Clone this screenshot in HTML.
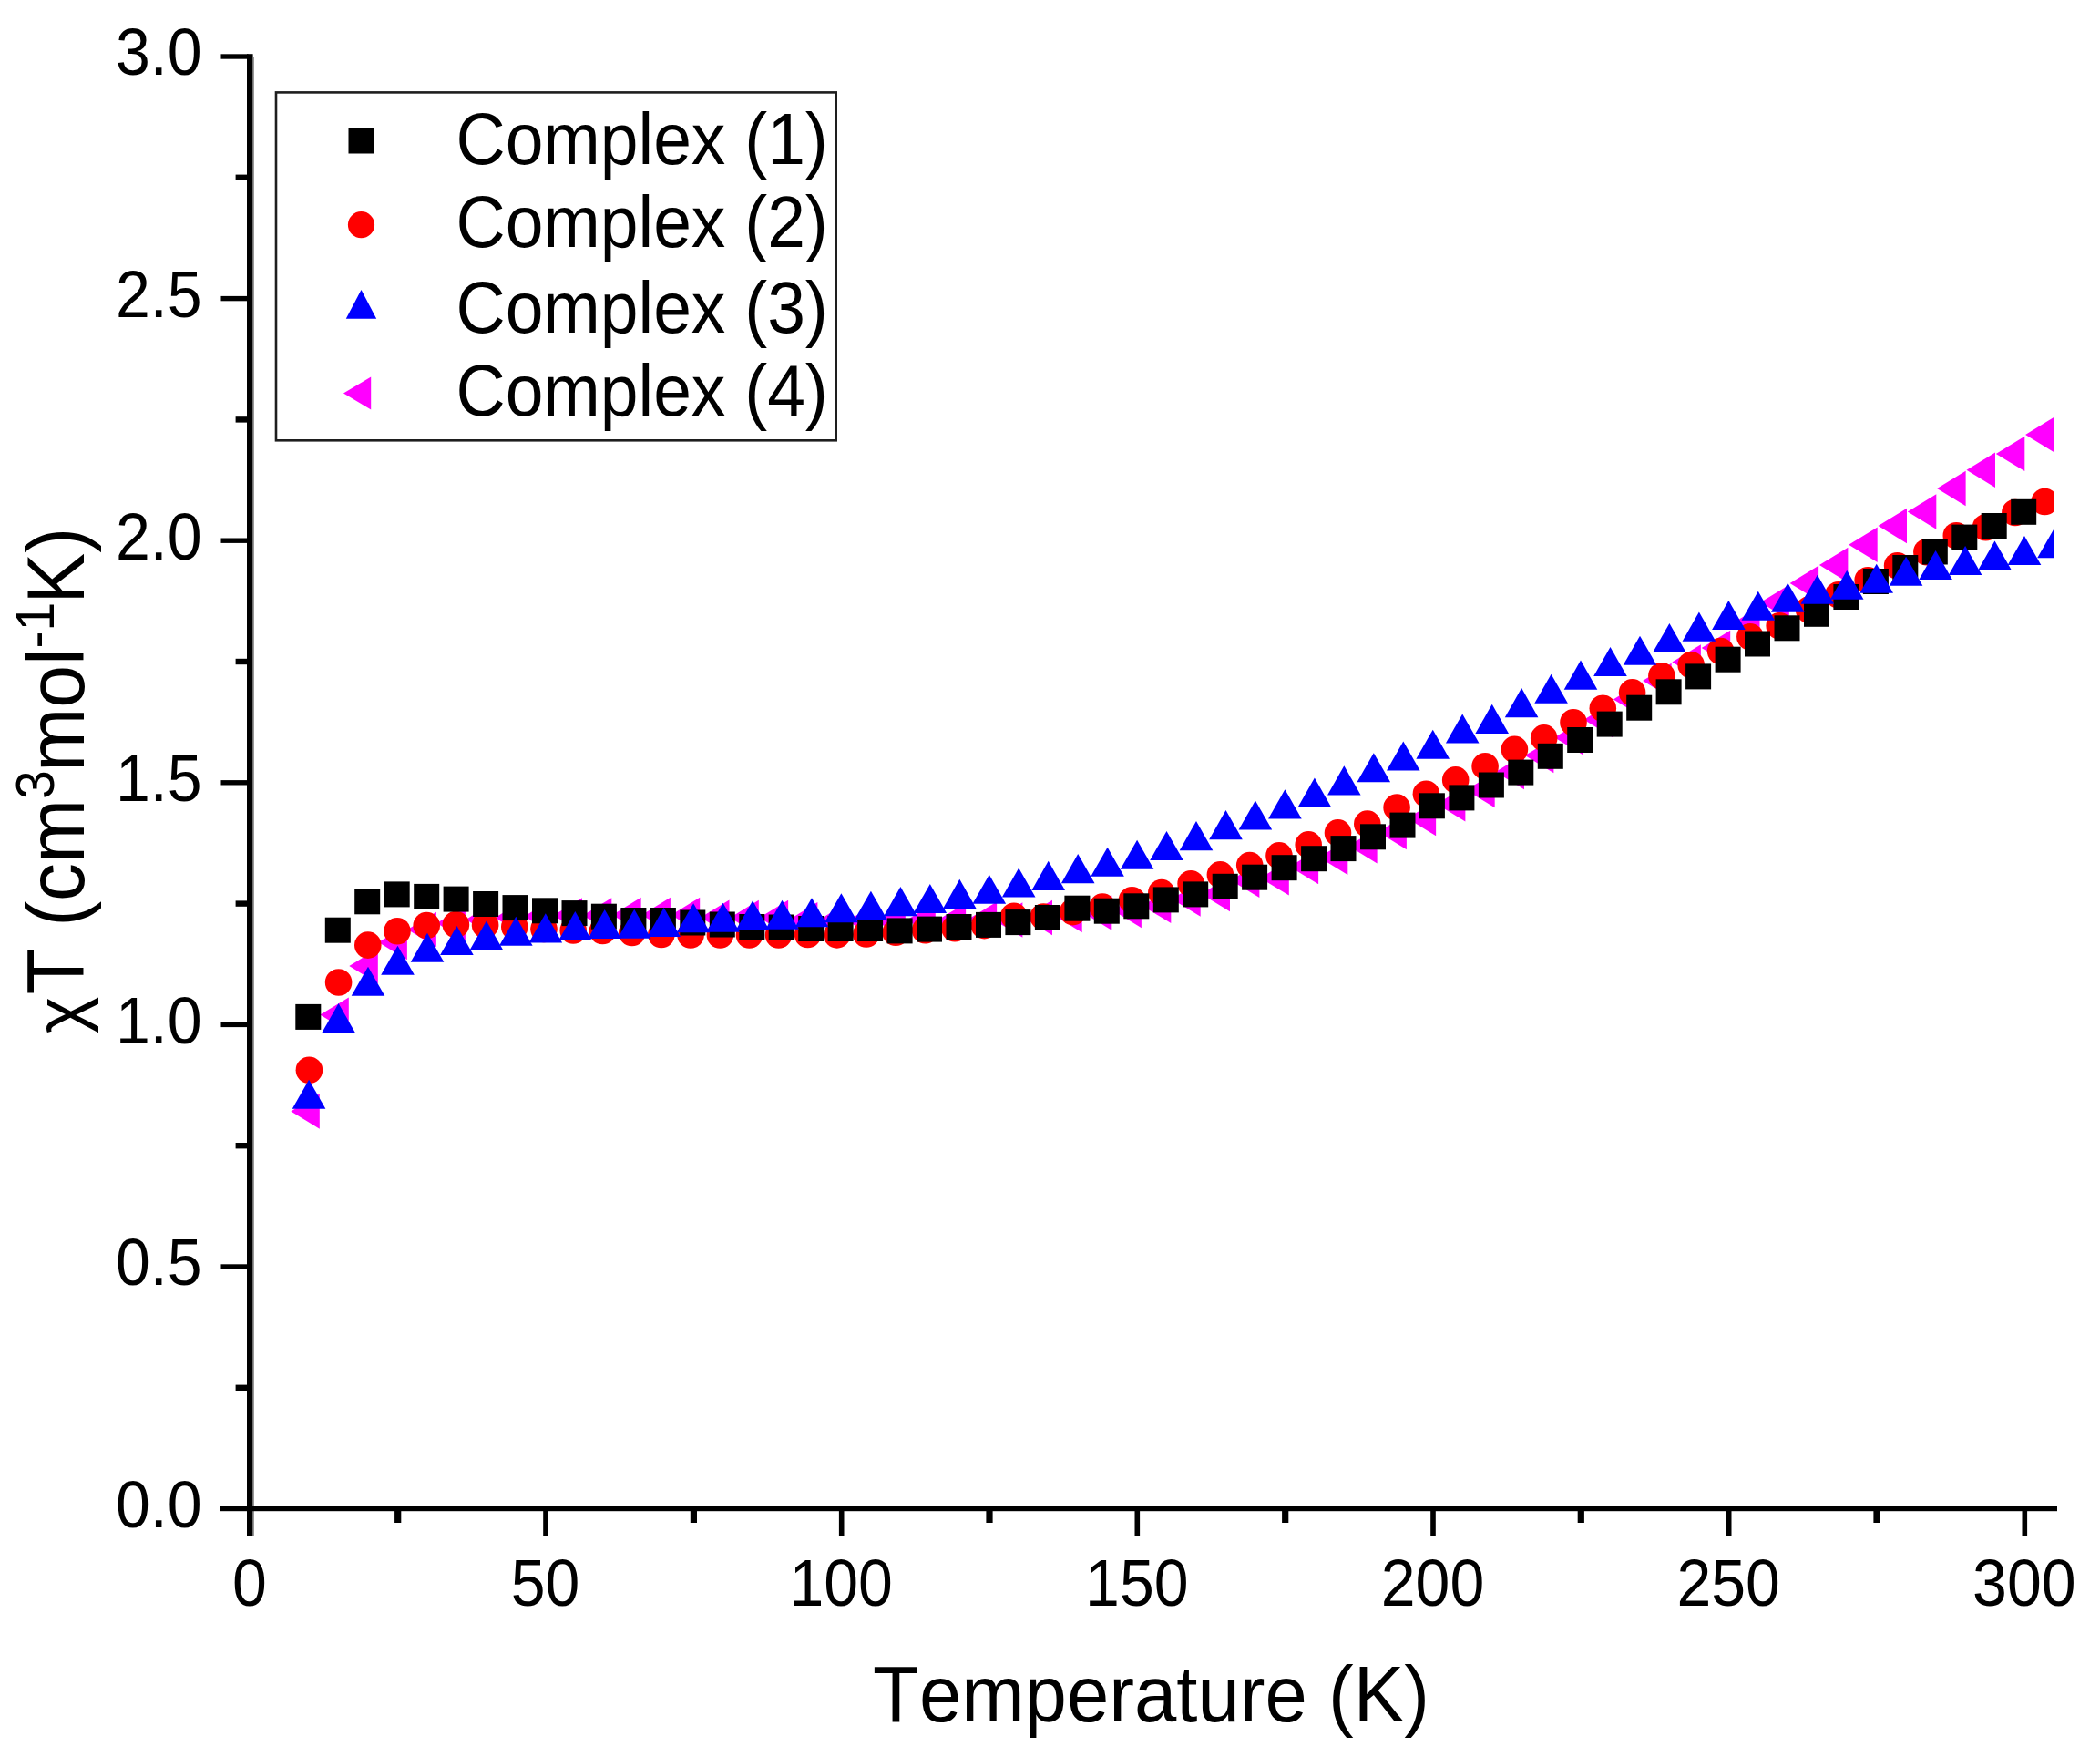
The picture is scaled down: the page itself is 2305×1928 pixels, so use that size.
<!DOCTYPE html>
<html lang="en"><head><meta charset="utf-8"><title>χT vs Temperature</title>
<style>
html,body{margin:0;padding:0;background:#fff;}
body{width:2305px;height:1928px;overflow:hidden;}
svg{display:block;}
text{font-family:"Liberation Sans",sans-serif;fill:#000;font-kerning:none;}
</style></head><body>
<svg width="2305" height="1928" viewBox="0 0 2305 1928">
<rect x="0" y="0" width="2305" height="1928" fill="#ffffff"/>
<defs><clipPath id="plotclip"><rect x="274.4" y="22.0" width="1980.6" height="1673.6"/></clipPath></defs>

<g clip-path="url(#plotclip)" shape-rendering="geometricPrecision">
<g fill="#ff00ff">
<path d="M319.3 1219.5L350.8 1200.3L350.8 1238.7Z"/>
<path d="M351.3 1113.6L382.8 1094.4L382.8 1132.8Z"/>
<path d="M383.3 1060.0L414.8 1040.8L414.8 1079.2Z"/>
<path d="M415.4 1034.0L446.9 1014.8L446.9 1053.2Z"/>
<path d="M447.4 1020.0L478.9 1000.8L478.9 1039.2Z"/>
<path d="M479.4 1013.0L510.9 993.8L510.9 1032.2Z"/>
<path d="M511.4 1009.0L542.9 989.8L542.9 1028.2Z"/>
<path d="M543.4 1007.0L574.9 987.8L574.9 1026.2Z"/>
<path d="M575.5 1005.5L607.0 986.3L607.0 1024.7Z"/>
<path d="M607.5 1004.4L639.0 985.2L639.0 1023.6Z"/>
<path d="M639.8 1004.4L671.3 985.2L671.3 1023.6Z"/>
<path d="M672.1 1004.0L703.6 984.8L703.6 1023.2Z"/>
<path d="M704.4 1004.0L735.9 984.8L735.9 1023.2Z"/>
<path d="M736.7 1004.0L768.2 984.8L768.2 1023.2Z"/>
<path d="M769.0 1006.7L800.5 987.5L800.5 1025.9Z"/>
<path d="M801.3 1007.0L832.8 987.8L832.8 1026.2Z"/>
<path d="M833.6 1007.0L865.1 987.8L865.1 1026.2Z"/>
<path d="M865.9 1009.3L897.4 990.1L897.4 1028.5Z"/>
<path d="M898.0 1010.0L929.5 990.8L929.5 1029.2Z"/>
<path d="M930.2 1010.5L961.7 991.3L961.7 1029.7Z"/>
<path d="M962.3 1011.0L993.8 991.8L993.8 1030.2Z"/>
<path d="M995.3 1009.5L1026.8 990.3L1026.8 1028.7Z"/>
<path d="M1028.6 1010.0L1060.1 990.8L1060.1 1029.2Z"/>
<path d="M1062.6 1008.7L1094.1 989.5L1094.1 1027.9Z"/>
<path d="M1090.9 1009.5L1122.4 990.3L1122.4 1028.7Z"/>
<path d="M1123.5 1007.0L1155.0 987.8L1155.0 1026.2Z"/>
<path d="M1156.2 1004.1L1187.7 984.9L1187.7 1023.3Z"/>
<path d="M1188.8 1001.6L1220.3 982.4L1220.3 1020.8Z"/>
<path d="M1221.4 999.0L1252.9 979.8L1252.9 1018.2Z"/>
<path d="M1253.8 993.9L1285.3 974.7L1285.3 1013.1Z"/>
<path d="M1286.2 986.5L1317.7 967.3L1317.7 1005.7Z"/>
<path d="M1318.5 981.0L1350.0 961.8L1350.0 1000.2Z"/>
<path d="M1350.9 965.9L1382.4 946.7L1382.4 985.1Z"/>
<path d="M1383.3 963.4L1414.8 944.2L1414.8 982.6Z"/>
<path d="M1415.6 951.0L1447.1 931.8L1447.1 970.2Z"/>
<path d="M1447.8 940.7L1479.3 921.5L1479.3 959.9Z"/>
<path d="M1480.1 928.2L1511.6 909.0L1511.6 947.4Z"/>
<path d="M1512.4 913.0L1543.9 893.8L1543.9 932.2Z"/>
<path d="M1544.6 898.0L1576.1 878.8L1576.1 917.2Z"/>
<path d="M1576.9 882.2L1608.4 863.0L1608.4 901.4Z"/>
<path d="M1609.2 867.0L1640.7 847.8L1640.7 886.2Z"/>
<path d="M1641.5 847.0L1673.0 827.8L1673.0 866.2Z"/>
<path d="M1673.9 829.0L1705.4 809.8L1705.4 848.2Z"/>
<path d="M1706.2 809.3L1737.7 790.1L1737.7 828.5Z"/>
<path d="M1738.5 789.7L1770.0 770.5L1770.0 808.9Z"/>
<path d="M1770.8 767.4L1802.3 748.2L1802.3 786.6Z"/>
<path d="M1803.1 746.9L1834.6 727.7L1834.6 766.1Z"/>
<path d="M1835.4 726.4L1866.9 707.2L1866.9 745.6Z"/>
<path d="M1867.7 711.0L1899.2 691.8L1899.2 730.2Z"/>
<path d="M1900.0 685.0L1931.5 665.8L1931.5 704.2Z"/>
<path d="M1932.3 661.0L1963.8 641.8L1963.8 680.2Z"/>
<path d="M1964.6 640.0L1996.1 620.8L1996.1 659.2Z"/>
<path d="M1996.9 620.0L2028.4 600.8L2028.4 639.2Z"/>
<path d="M2029.2 597.8L2060.7 578.6L2060.7 617.0Z"/>
<path d="M2061.5 577.0L2093.0 557.8L2093.0 596.2Z"/>
<path d="M2093.8 561.5L2125.3 542.3L2125.3 580.7Z"/>
<path d="M2126.1 536.0L2157.6 516.8L2157.6 555.2Z"/>
<path d="M2158.5 515.8L2190.0 496.6L2190.0 535.0Z"/>
<path d="M2190.8 497.9L2222.3 478.7L2222.3 517.1Z"/>
<path d="M2223.1 477.0L2254.6 457.8L2254.6 496.2Z"/>
</g><g fill="#ff0000">
<circle cx="339.4" cy="1174.3" r="14.8"/>
<circle cx="371.6" cy="1078.0" r="14.8"/>
<circle cx="403.8" cy="1037.1" r="14.8"/>
<circle cx="436.0" cy="1021.8" r="14.8"/>
<circle cx="468.2" cy="1015.6" r="14.8"/>
<circle cx="500.4" cy="1014.6" r="14.8"/>
<circle cx="532.6" cy="1015.0" r="14.8"/>
<circle cx="564.8" cy="1017.0" r="14.8"/>
<circle cx="597.0" cy="1019.5" r="14.8"/>
<circle cx="629.2" cy="1021.0" r="14.8"/>
<circle cx="661.4" cy="1021.5" r="14.8"/>
<circle cx="693.7" cy="1023.5" r="14.8"/>
<circle cx="725.9" cy="1025.5" r="14.8"/>
<circle cx="758.1" cy="1026.0" r="14.8"/>
<circle cx="790.4" cy="1026.0" r="14.8"/>
<circle cx="822.5" cy="1026.0" r="14.8"/>
<circle cx="854.6" cy="1026.0" r="14.8"/>
<circle cx="886.6" cy="1025.5" r="14.8"/>
<circle cx="918.7" cy="1025.9" r="14.8"/>
<circle cx="950.8" cy="1025.0" r="14.8"/>
<circle cx="983.2" cy="1023.3" r="14.8"/>
<circle cx="1015.6" cy="1020.7" r="14.8"/>
<circle cx="1048.0" cy="1018.7" r="14.8"/>
<circle cx="1080.4" cy="1015.6" r="14.8"/>
<circle cx="1112.9" cy="1005.3" r="14.8"/>
<circle cx="1145.3" cy="1006.0" r="14.8"/>
<circle cx="1177.7" cy="1000.6" r="14.8"/>
<circle cx="1210.1" cy="995.1" r="14.8"/>
<circle cx="1242.5" cy="987.8" r="14.8"/>
<circle cx="1274.8" cy="979.6" r="14.8"/>
<circle cx="1307.1" cy="969.8" r="14.8"/>
<circle cx="1339.4" cy="959.9" r="14.8"/>
<circle cx="1371.7" cy="949.6" r="14.8"/>
<circle cx="1404.0" cy="938.9" r="14.8"/>
<circle cx="1436.2" cy="926.9" r="14.8"/>
<circle cx="1468.5" cy="913.9" r="14.8"/>
<circle cx="1500.8" cy="904.1" r="14.8"/>
<circle cx="1533.1" cy="886.1" r="14.8"/>
<circle cx="1565.4" cy="871.2" r="14.8"/>
<circle cx="1597.7" cy="855.9" r="14.8"/>
<circle cx="1630.1" cy="840.9" r="14.8"/>
<circle cx="1662.4" cy="822.4" r="14.8"/>
<circle cx="1694.7" cy="809.9" r="14.8"/>
<circle cx="1727.0" cy="792.8" r="14.8"/>
<circle cx="1759.3" cy="777.3" r="14.8"/>
<circle cx="1791.6" cy="759.9" r="14.8"/>
<circle cx="1823.9" cy="741.8" r="14.8"/>
<circle cx="1856.2" cy="729.8" r="14.8"/>
<circle cx="1888.6" cy="714.5" r="14.8"/>
<circle cx="1920.9" cy="698.7" r="14.8"/>
<circle cx="1953.2" cy="686.7" r="14.8"/>
<circle cx="1985.6" cy="669.0" r="14.8"/>
<circle cx="2017.9" cy="652.7" r="14.8"/>
<circle cx="2050.2" cy="636.7" r="14.8"/>
<circle cx="2082.6" cy="620.7" r="14.8"/>
<circle cx="2114.9" cy="605.7" r="14.8"/>
<circle cx="2147.3" cy="587.7" r="14.8"/>
<circle cx="2179.6" cy="578.7" r="14.8"/>
<circle cx="2211.9" cy="562.5" r="14.8"/>
<circle cx="2244.3" cy="550.5" r="14.8"/>
</g><g fill="#000000">
<rect x="324.3" y="1101.9" width="28" height="28"/>
<rect x="356.8" y="1006.7" width="28" height="28"/>
<rect x="389.2" y="975.3" width="28" height="28"/>
<rect x="421.7" y="967.4" width="28" height="28"/>
<rect x="454.2" y="969.9" width="28" height="28"/>
<rect x="486.6" y="972.6" width="28" height="28"/>
<rect x="519.1" y="978.0" width="28" height="28"/>
<rect x="551.5" y="982.1" width="28" height="28"/>
<rect x="584.0" y="985.3" width="28" height="28"/>
<rect x="616.5" y="988.1" width="28" height="28"/>
<rect x="648.9" y="991.7" width="28" height="28"/>
<rect x="681.4" y="996.0" width="28" height="28"/>
<rect x="713.9" y="996.0" width="28" height="28"/>
<rect x="746.3" y="998.5" width="28" height="28"/>
<rect x="778.8" y="1000.5" width="28" height="28"/>
<rect x="811.3" y="1003.0" width="28" height="28"/>
<rect x="843.7" y="1003.5" width="28" height="28"/>
<rect x="876.2" y="1005.0" width="28" height="28"/>
<rect x="908.6" y="1005.0" width="28" height="28"/>
<rect x="941.1" y="1005.0" width="28" height="28"/>
<rect x="973.6" y="1007.4" width="28" height="28"/>
<rect x="1006.0" y="1005.6" width="28" height="28"/>
<rect x="1038.5" y="1003.0" width="28" height="28"/>
<rect x="1071.0" y="1000.9" width="28" height="28"/>
<rect x="1103.4" y="998.1" width="28" height="28"/>
<rect x="1135.9" y="993.0" width="28" height="28"/>
<rect x="1168.4" y="982.7" width="28" height="28"/>
<rect x="1200.8" y="985.7" width="28" height="28"/>
<rect x="1233.3" y="980.3" width="28" height="28"/>
<rect x="1265.8" y="973.4" width="28" height="28"/>
<rect x="1298.2" y="967.4" width="28" height="28"/>
<rect x="1330.7" y="958.8" width="28" height="28"/>
<rect x="1363.1" y="948.7" width="28" height="28"/>
<rect x="1395.6" y="938.2" width="28" height="28"/>
<rect x="1428.1" y="928.2" width="28" height="28"/>
<rect x="1460.5" y="917.1" width="28" height="28"/>
<rect x="1493.0" y="904.3" width="28" height="28"/>
<rect x="1525.5" y="891.6" width="28" height="28"/>
<rect x="1557.9" y="870.3" width="28" height="28"/>
<rect x="1590.4" y="861.4" width="28" height="28"/>
<rect x="1622.9" y="847.5" width="28" height="28"/>
<rect x="1655.3" y="833.6" width="28" height="28"/>
<rect x="1687.8" y="815.8" width="28" height="28"/>
<rect x="1720.2" y="798.0" width="28" height="28"/>
<rect x="1752.7" y="780.6" width="28" height="28"/>
<rect x="1785.2" y="762.7" width="28" height="28"/>
<rect x="1817.6" y="745.3" width="28" height="28"/>
<rect x="1850.1" y="728.4" width="28" height="28"/>
<rect x="1882.6" y="709.7" width="28" height="28"/>
<rect x="1915.0" y="692.5" width="28" height="28"/>
<rect x="1947.5" y="675.3" width="28" height="28"/>
<rect x="1980.0" y="659.8" width="28" height="28"/>
<rect x="2012.4" y="641.0" width="28" height="28"/>
<rect x="2044.9" y="624.0" width="28" height="28"/>
<rect x="2077.3" y="609.0" width="28" height="28"/>
<rect x="2109.8" y="591.5" width="28" height="28"/>
<rect x="2142.3" y="575.6" width="28" height="28"/>
<rect x="2174.7" y="563.0" width="28" height="28"/>
<rect x="2207.2" y="547.8" width="28" height="28"/>
</g><g fill="#0000ff">
<path d="M339.1 1184.7L320.8 1216.8L357.4 1216.8Z"/>
<path d="M371.6 1101.1L353.3 1133.2L389.9 1133.2Z"/>
<path d="M404.0 1060.7L385.7 1092.8L422.3 1092.8Z"/>
<path d="M436.5 1037.7L418.2 1069.8L454.8 1069.8Z"/>
<path d="M469.0 1023.7L450.7 1055.8L487.3 1055.8Z"/>
<path d="M501.4 1016.0L483.1 1048.1L519.7 1048.1Z"/>
<path d="M533.9 1010.5L515.6 1042.6L552.2 1042.6Z"/>
<path d="M566.3 1005.7L548.0 1037.8L584.6 1037.8Z"/>
<path d="M598.8 1002.3L580.5 1034.4L617.1 1034.4Z"/>
<path d="M631.3 1000.0L613.0 1032.1L649.6 1032.1Z"/>
<path d="M663.7 997.9L645.4 1030.0L682.0 1030.0Z"/>
<path d="M696.2 997.7L677.9 1029.8L714.5 1029.8Z"/>
<path d="M728.7 996.0L710.4 1028.1L747.0 1028.1Z"/>
<path d="M761.1 991.2L742.8 1023.3L779.4 1023.3Z"/>
<path d="M793.6 990.7L775.3 1022.8L811.9 1022.8Z"/>
<path d="M826.1 988.3L807.8 1020.4L844.4 1020.4Z"/>
<path d="M858.5 987.7L840.2 1019.8L876.8 1019.8Z"/>
<path d="M891.0 985.2L872.7 1017.3L909.3 1017.3Z"/>
<path d="M923.4 980.2L905.1 1012.3L941.7 1012.3Z"/>
<path d="M955.9 977.7L937.6 1009.8L974.2 1009.8Z"/>
<path d="M988.4 973.1L970.1 1005.2L1006.7 1005.2Z"/>
<path d="M1020.8 970.0L1002.5 1002.1L1039.1 1002.1Z"/>
<path d="M1053.3 964.8L1035.0 996.9L1071.6 996.9Z"/>
<path d="M1085.8 959.7L1067.5 991.8L1104.1 991.8Z"/>
<path d="M1118.2 952.5L1099.9 984.6L1136.5 984.6Z"/>
<path d="M1150.7 944.8L1132.4 976.9L1169.0 976.9Z"/>
<path d="M1183.2 937.1L1164.9 969.2L1201.5 969.2Z"/>
<path d="M1215.6 929.7L1197.3 961.8L1233.9 961.8Z"/>
<path d="M1248.1 921.7L1229.8 953.8L1266.4 953.8Z"/>
<path d="M1280.5 911.9L1262.2 944.0L1298.8 944.0Z"/>
<path d="M1313.0 901.1L1294.7 933.2L1331.3 933.2Z"/>
<path d="M1345.5 889.1L1327.2 921.2L1363.8 921.2Z"/>
<path d="M1377.9 878.5L1359.6 910.6L1396.2 910.6Z"/>
<path d="M1410.4 866.3L1392.1 898.4L1428.7 898.4Z"/>
<path d="M1442.9 853.6L1424.6 885.7L1461.2 885.7Z"/>
<path d="M1475.3 840.3L1457.0 872.4L1493.6 872.4Z"/>
<path d="M1507.8 826.2L1489.5 858.3L1526.1 858.3Z"/>
<path d="M1540.3 813.4L1522.0 845.5L1558.6 845.5Z"/>
<path d="M1572.7 800.7L1554.4 832.8L1591.0 832.8Z"/>
<path d="M1605.2 783.4L1586.9 815.5L1623.5 815.5Z"/>
<path d="M1637.7 772.8L1619.4 804.9L1656.0 804.9Z"/>
<path d="M1670.1 755.1L1651.8 787.2L1688.4 787.2Z"/>
<path d="M1702.6 739.7L1684.3 771.8L1720.9 771.8Z"/>
<path d="M1735.0 724.6L1716.7 756.7L1753.3 756.7Z"/>
<path d="M1767.5 710.0L1749.2 742.1L1785.8 742.1Z"/>
<path d="M1800.0 697.7L1781.7 729.8L1818.3 729.8Z"/>
<path d="M1832.4 684.0L1814.1 716.1L1850.7 716.1Z"/>
<path d="M1864.9 671.6L1846.6 703.7L1883.2 703.7Z"/>
<path d="M1897.4 658.9L1879.1 691.0L1915.7 691.0Z"/>
<path d="M1929.8 648.7L1911.5 680.8L1948.1 680.8Z"/>
<path d="M1962.3 639.7L1944.0 671.8L1980.6 671.8Z"/>
<path d="M1994.8 630.7L1976.5 662.8L2013.1 662.8Z"/>
<path d="M2027.2 625.7L2008.9 657.8L2045.5 657.8Z"/>
<path d="M2059.7 618.7L2041.4 650.8L2078.0 650.8Z"/>
<path d="M2092.1 610.7L2073.8 642.8L2110.4 642.8Z"/>
<path d="M2124.6 603.9L2106.3 636.0L2142.9 636.0Z"/>
<path d="M2157.1 598.9L2138.8 631.0L2175.4 631.0Z"/>
<path d="M2189.5 593.4L2171.2 625.5L2207.8 625.5Z"/>
<path d="M2222.0 588.0L2203.7 620.1L2240.3 620.1Z"/>
<path d="M2254.5 580.2L2236.2 612.3L2272.8 612.3Z"/>
</g></g>
<g fill="#000000">
<rect x="271" y="59.2" width="6.6" height="1626.8"/>
<rect x="277.6" y="62" width="1.2" height="1624" fill="#808080"/>
<rect x="242" y="1653" width="2016" height="5.2"/>
<rect x="258.6" y="1519.6" width="14" height="6.4"/>
<rect x="242.5" y="1387.3" width="30" height="5.4"/>
<rect x="258.6" y="1254.0" width="14" height="6.4"/>
<rect x="242.5" y="1121.7" width="30" height="5.4"/>
<rect x="258.6" y="988.4" width="14" height="6.4"/>
<rect x="242.5" y="856.1" width="30" height="5.4"/>
<rect x="258.6" y="722.8" width="14" height="6.4"/>
<rect x="242.5" y="590.5" width="30" height="5.4"/>
<rect x="258.6" y="457.2" width="14" height="6.4"/>
<rect x="242.5" y="324.9" width="30" height="5.4"/>
<rect x="258.6" y="191.6" width="14" height="6.4"/>
<rect x="242.5" y="59.3" width="30" height="5.4"/>
<rect x="433.1" y="1655" width="7.2" height="16"/>
<rect x="596.2" y="1655" width="5.6" height="31"/>
<rect x="757.8" y="1655" width="7.2" height="16"/>
<rect x="920.9" y="1655" width="5.6" height="31"/>
<rect x="1082.4" y="1655" width="7.2" height="16"/>
<rect x="1245.5" y="1655" width="5.6" height="31"/>
<rect x="1407.1" y="1655" width="7.2" height="16"/>
<rect x="1570.2" y="1655" width="5.6" height="31"/>
<rect x="1731.7" y="1655" width="7.2" height="16"/>
<rect x="1894.9" y="1655" width="5.6" height="31"/>
<rect x="2056.4" y="1655" width="7.2" height="16"/>
<rect x="2219.5" y="1655" width="5.6" height="31"/>
</g>
<g font-size="68px">
<text transform="translate(221.5,1675.9) scale(1,1.05)" text-anchor="end">0.0</text>
<text transform="translate(221.5,1410.3) scale(1,1.05)" text-anchor="end">0.5</text>
<text transform="translate(221.5,1144.7) scale(1,1.05)" text-anchor="end">1.0</text>
<text transform="translate(221.5,879.1) scale(1,1.05)" text-anchor="end">1.5</text>
<text transform="translate(221.5,613.5) scale(1,1.05)" text-anchor="end">2.0</text>
<text transform="translate(221.5,347.9) scale(1,1.05)" text-anchor="end">2.5</text>
<text transform="translate(221.5,82.3) scale(1,1.05)" text-anchor="end">3.0</text>
<text transform="translate(273.9,1761.5) scale(1,1.05)" text-anchor="middle">0</text>
<text transform="translate(598.5,1761.5) scale(1,1.05)" text-anchor="middle">50</text>
<text transform="translate(923.2,1761.5) scale(1,1.05)" text-anchor="middle">100</text>
<text transform="translate(1247.8,1761.5) scale(1,1.05)" text-anchor="middle">150</text>
<text transform="translate(1572.5,1761.5) scale(1,1.05)" text-anchor="middle">200</text>
<text transform="translate(1897.2,1761.5) scale(1,1.05)" text-anchor="middle">250</text>
<text transform="translate(2221.8,1761.5) scale(1,1.05)" text-anchor="middle">300</text>
</g>
<text transform="translate(1263.5,1888.8) scale(1,1.05)" font-size="83.3px" text-anchor="middle">Temperature (K)</text>
<text transform="translate(92,1134) rotate(-90) scale(1,0.975)" font-size="77px">χ</text>
<text transform="translate(92,1091.5) rotate(-90) scale(1,1.05)" font-size="84px">T (cm<tspan font-size="57px" dy="-31.5">3</tspan><tspan dy="31.5" dx="-1.5">mol</tspan><tspan font-size="57px" dy="-31.5">-1</tspan><tspan dy="31.5" dx="-2">K)</tspan></text>
<rect x="303" y="101.4" width="614.7" height="381.9" fill="#ffffff" stroke="#1e1e1e" stroke-width="2.6"/>
<rect x="382.5" y="140.5" width="28" height="28" fill="#000"/>
<circle cx="396.5" cy="246.7" r="14.6" fill="#ff0000"/>
<path d="M396.5 317.9L379.8 349.8L413.2 349.8Z" fill="#0000ff"/>
<path d="M377.0 431.5L407.2 413.6L407.2 449.4Z" fill="#ff00ff"/>
<text transform="translate(500.5,179.9) scale(1,1.05)" font-size="75px">Complex (1)</text>
<text transform="translate(500.5,271.4) scale(1,1.05)" font-size="75px">Complex (2)</text>
<text transform="translate(500.5,364.9) scale(1,1.05)" font-size="75px">Complex (3)</text>
<text transform="translate(500.5,456.2) scale(1,1.05)" font-size="75px">Complex (4)</text>
</svg></body></html>
